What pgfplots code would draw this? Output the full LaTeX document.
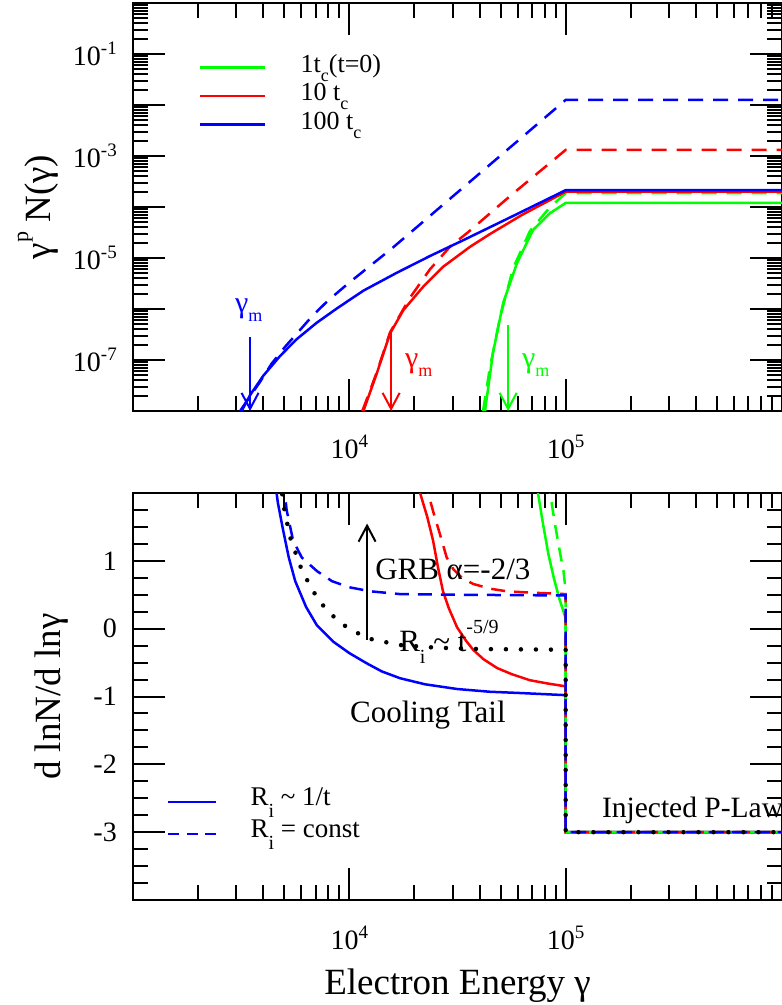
\documentclass[border=0pt]{standalone}
\usepackage{pgfplots}
\pgfplotsset{compat=1.18}
\usepackage{fontspec}
\setmainfont{Liberation Serif}
\usetikzlibrary{arrows.meta}
\definecolor{ggreen}{RGB}{0,255,0}
\definecolor{rred}{RGB}{255,0,0}
\definecolor{bblue}{RGB}{0,0,255}
\newcommand{\tsup}[1]{\raisebox{11pt}{\fontsize{19}{19}\selectfont #1}}
\newcommand{\hsup}[1]{\raisebox{18pt}{\fontsize{20}{20}\selectfont #1}}
\newcommand{\lsub}[1]{\raisebox{-9pt}{\fontsize{18}{18}\selectfont #1}}
\newcommand{\asub}[1]{\raisebox{-12pt}{\fontsize{20}{20}\selectfont #1}}
\tikzset{arr/.style={line width=2pt, -{Straight Barb[length=16pt,width=17pt,line width=2pt]}}}
\begin{document}
\begin{tikzpicture}
\useasboundingbox (0,0) rectangle (782pt,-1005pt);
% ---------------- top panel ----------------
\begin{axis}[at={(133pt,-411pt)}, anchor=south west,
  scale only axis, width=649pt, height=408pt,
  xmode=log, xmin=1e3, xmax=1e6,
  ymode=log, ymin=1e-8, ymax=1,
  axis line style={line width=2.5pt},
  tick style={line width=2pt, black},
  major tick length=32pt, minor tick length=15pt,
  tick align=inside,
  xtick={1e3,1e4,1e5,1e6},
  xticklabels={,10\tsup{4},10\tsup{5},},
  minor xtick={2000,3000,4000,5000,6000,7000,8000,9000,20000,30000,40000,50000,60000,70000,80000,90000,200000,300000,400000,500000,600000,700000,800000,900000},
  xticklabel style={anchor=base, yshift=-47pt, inner sep=0pt, font=\fontsize{28}{30}\selectfont},
  yticklabel style={anchor=east, xshift=-16pt, inner sep=0pt, font=\fontsize{28}{30}\selectfont},
  ytick={1e-8,1e-7,1e-6,1e-5,1e-4,1e-3,1e-2,1e-1,1},
  yticklabels={,10\tsup{-7},,10\tsup{-5},,10\tsup{-3},,10\tsup{-1},},
  minor ytick={2e-8,3e-8,4e-8,5e-8,6e-8,7e-8,8e-8,9e-8,
    2e-7,3e-7,4e-7,5e-7,6e-7,7e-7,8e-7,9e-7,
    2e-6,3e-6,4e-6,5e-6,6e-6,7e-6,8e-6,9e-6,
    2e-5,3e-5,4e-5,5e-5,6e-5,7e-5,8e-5,9e-5,
    2e-4,3e-4,4e-4,5e-4,6e-4,7e-4,8e-4,9e-4,
    2e-3,3e-3,4e-3,5e-3,6e-3,7e-3,8e-3,9e-3,
    2e-2,3e-2,4e-2,5e-2,6e-2,7e-2,8e-2,9e-2,
    2e-1,3e-1,4e-1,5e-1,6e-1,7e-1,8e-1,9e-1},
  ylabel={γ\raisebox{22pt}{\fontsize{22}{22}\selectfont p} N(γ)},
  ylabel style={at={(axis description cs:-0.1464,0.5)}, anchor=center, font=\fontsize{37}{40}\selectfont},
  legend cell align=left,
  legend style={at={(axis description cs:0.1017,0.877)}, anchor=north west,
    draw=none, fill=none, inner sep=0pt, outer sep=0pt, row sep=0pt,
    font=\fontsize{26}{28.5}\selectfont,
    nodes={inner sep=0pt, text height=19pt, text depth=9.5pt},
    /tikz/every odd column/.append style={column sep=34pt}},
  legend image code/.code={\draw[#1] (0pt,0pt) -- (65pt,0pt);},
]
\addlegendimage{color=ggreen, line width=2.7pt}
\addlegendentry{1t\lsub{c}(t=0)}
\addlegendimage{color=rred, line width=2.7pt}
\addlegendentry{10 t\lsub{c}}
\addlegendimage{color=bblue, line width=2.7pt}
\addlegendentry{100 t\lsub{c}}
% green solid / dashed (1 t_c)
\addplot[forget plot, color=ggreen, line width=2.5pt] coordinates {
 (42364,1e-8) (46132,1.380e-7) (51404,1.318e-6) (59566,7.943e-6) (70632,3.548e-5) (84723,7.586e-5) (100000,1.202e-4) (1000000,1.202e-4)};
\addplot[forget plot, color=ggreen, line width=2.5pt, dash pattern=on 15pt off 10pt] coordinates {
 (41495,1e-8) (44668,7.244e-8) (49774,6.918e-7) (57148,6.310e-6) (68391,3.388e-5) (84723,1e-4) (100000,1.862e-4) (1000000,1.862e-4)};
% red solid / dashed (10 t_c)
\addplot[forget plot, color=rred, line width=2.5pt] coordinates {
 (11614,1e-8) (13397,5.495e-8) (15417,3.311e-7) (17783,9.55e-7) (21979,2.754e-6) (27164,6.761e-6) (36141,1.660e-5) (44668,2.951e-5) (63096,7.079e-5) (100000,1.995e-4) (1000000,1.995e-4)};
\addplot[forget plot, color=rred, line width=2.5pt, dash pattern=on 15pt off 10pt] coordinates {
 (11482,1e-8) (13397,5.754e-8) (15417,3.467e-7) (19055,1.660e-6) (23605,6.026e-6) (29174,1.660e-5) (35481,3.236e-5) (56234,1.738e-4) (100000,1.318e-3) (1000000,1.318e-3)};
% blue solid / dashed (100 t_c)
\addplot[forget plot, color=bblue, line width=2.5pt] coordinates {
 (3177,1e-8) (3475,2.042e-8) (3999,4.898e-8) (4786,1.202e-7) (5715,2.570e-7) (7063,5.370e-7) (8750,1.023e-6) (11614,2.291e-6) (16558,5.129e-6) (23605,1.096e-5) (33651,2.239e-5) (56234,6.457e-5) (100000,2.138e-4) (1000000,2.138e-4)};
\addplot[forget plot, color=bblue, line width=2.5pt, dash pattern=on 15pt off 10pt] coordinates {
 (3126,1e-8) (3467,1.905e-8) (3864,3.715e-8) (4375,8.511e-8) (5047,1.820e-7) (5808,3.548e-7) (6699,7.079e-7) (7943,1.445e-6) (10000,3.311e-6) (15849,1.585e-5) (100000,1.259e-2) (1000000,1.259e-2)};
% gamma_m arrows and labels
\draw[arr, bblue] (axis cs:3475,2.82e-7) -- (axis cs:3475,1e-8);
\draw[arr, rred] (axis cs:15600,3.39e-7) -- (axis cs:15600,1e-8);
\draw[arr, ggreen] (axis cs:54200,4.9e-7) -- (axis cs:54200,1e-8);
\node[anchor=base west, inner sep=0pt, text=bblue, font=\fontsize{30}{32}\selectfont] at (axis cs:2962,8.7e-7) {γ\lsub{m}};
\node[anchor=base west, inner sep=0pt, text=rred, font=\fontsize{30}{32}\selectfont] at (axis cs:18090,7.24e-8) {γ\lsub{m}};
\node[anchor=base west, inner sep=0pt, text=ggreen, font=\fontsize{30}{32}\selectfont] at (axis cs:62800,7.24e-8) {γ\lsub{m}};
\end{axis}
% ---------------- bottom panel ----------------
\begin{axis}[at={(133pt,-900pt)}, anchor=south west,
  scale only axis, width=649pt, height=407pt,
  xmode=log, xmin=1e3, xmax=1e6,
  ymin=-4, ymax=2,
  axis line style={line width=2.5pt},
  tick style={line width=2pt, black},
  major tick length=32pt, minor tick length=15pt,
  tick align=inside,
  xtick={1e3,1e4,1e5,1e6},
  xticklabels={,10\tsup{4},10\tsup{5},},
  minor xtick={2000,3000,4000,5000,6000,7000,8000,9000,20000,30000,40000,50000,60000,70000,80000,90000,200000,300000,400000,500000,600000,700000,800000,900000},
  xticklabel style={anchor=base, yshift=-49pt, inner sep=0pt, font=\fontsize{28}{30}\selectfont},
  yticklabel style={anchor=east, xshift=-16pt, inner sep=0pt, font=\fontsize{28}{30}\selectfont},
  ytick={-4,-3,-2,-1,0,1,2},
  yticklabels={,-3,-2,-1,0,1,},
  minor y tick num=3,
  ylabel={d lnN/d lnγ},
  ylabel style={at={(axis description cs:-0.1248,0.5)}, anchor=center, font=\fontsize{37}{40}\selectfont},
  xlabel={Electron Energy γ},
  xlabel style={at={(axis description cs:0.5,-0.231)}, anchor=base, font=\fontsize{37}{40}\selectfont},
  legend cell align=left,
  legend style={at={(axis description cs:0.0524,0.280)}, anchor=north west,
    draw=none, fill=none, inner sep=0pt, outer sep=0pt, row sep=0pt,
    font=\fontsize{27}{32}\selectfont,
    nodes={inner sep=0pt, text height=19pt, text depth=13pt},
    /tikz/every odd column/.append style={column sep=33pt}},
  legend image code/.code={\draw[#1] (0pt,0pt) -- (48pt,0pt);},
]
\addlegendimage{color=bblue, line width=2.5pt}
\addlegendentry{R\asub{i} \textasciitilde{} 1/t}
\addlegendimage{color=bblue, line width=2.5pt, dash pattern=on 11pt off 7.5pt}
\addlegendentry{R\asub{i} = const}
% solid curves
\addplot[forget plot, color=ggreen, line width=2.5pt] coordinates {
 (73282,2.2) (74473,2.0) (78524,1.55) (83176,1.10) (88105,0.75) (93325,0.45) (97724,0.25) (100000,0.15) (100000,-3) (1000000,-3)};
\addplot[forget plot, color=rred, line width=2.5pt] coordinates {
 (20893,2.2) (21232,2.0) (22909,1.65) (24378,1.30) (25704,0.90) (27102,0.55) (28840,0.30) (31477,0.02) (34674,-0.18) (37325,-0.31) (41687,-0.45) (48195,-0.58) (56234,-0.67) (68391,-0.76) (83176,-0.81) (100000,-0.85) (100000,-3) (1000000,-3)};
\addplot[forget plot, color=bblue, line width=2.5pt] coordinates {
 (4519,2.2) (4677,1.85) (4943,1.45) (5248,1.05) (5623,0.70) (6310,0.32) (7079,0.05) (8414,-0.19) (10000,-0.36) (12023,-0.51) (14125,-0.63) (17140,-0.73) (22387,-0.82) (31623,-0.89) (44668,-0.93) (63096,-0.95) (100000,-0.98) (100000,-3) (1000000,-3)};
% dashed curves
\addplot[forget plot, color=ggreen, line width=2.5pt, dash pattern=on 14pt off 9pt] coordinates {
 (83176,2.2) (84723,2.0) (89125,1.55) (94406,1.10) (97724,0.85) (100000,0.55) (100000,-3) (1000000,-3)};
\addplot[forget plot, color=rred, line width=2.5pt, dash pattern=on 14pt off 9pt] coordinates {
 (22646,2.2) (23121,2.0) (24547,1.70) (26303,1.38) (28184,1.05) (30200,0.88) (33113,0.75) (37325,0.66) (44668,0.59) (53703,0.55) (70795,0.53) (100000,0.51) (100000,-3) (1000000,-3)};
\addplot[forget plot, color=bblue, line width=2.5pt, dash pattern=on 14pt off 9pt] coordinates {
 (4955,2.2) (5129,1.75) (5495,1.30) (6026,1.05) (7079,0.85) (8318,0.70) (10000,0.61) (12589,0.55) (17140,0.51) (31623,0.50) (100000,0.49) (100000,-3) (1000000,-3)};
% dotted curve R_i ~ t^-5/9
\addplot[forget plot, black, line width=4.5pt, line cap=round, dash pattern=on 0pt off 15pt] coordinates {
 (4786,2.2) (5012,1.75) (5321,1.35) (5916,0.93) (6607,0.62) (7328,0.39) (8318,0.20) (9333,0.06) (12023,-0.14) (16982,-0.24) (25119,-0.28) (39811,-0.30) (100000,-0.31) (100000,-3) (1000000,-3)};
% annotations
\draw[arr, black] (axis cs:12080,-0.17) -- (axis cs:12080,1.55);
\node[anchor=base west, inner sep=0pt, font=\fontsize{31}{33}\selectfont] at (axis cs:13150,0.72) {GRB α=-2/3};
\node[anchor=base west, inner sep=0pt, font=\fontsize{31}{33}\selectfont] at (axis cs:16980,-0.34) {R\asub{i} \textasciitilde{} t\hsup{-5/9}};
\node[anchor=base west, inner sep=0pt, font=\fontsize{31}{33}\selectfont] at (axis cs:10070,-1.38) {Cooling Tail};
\node[anchor=base west, inner sep=0pt, font=\fontsize{29.5}{32}\selectfont] at (axis cs:147000,-2.78) {Injected P-Law};
\end{axis}
\end{tikzpicture}
\end{document}
